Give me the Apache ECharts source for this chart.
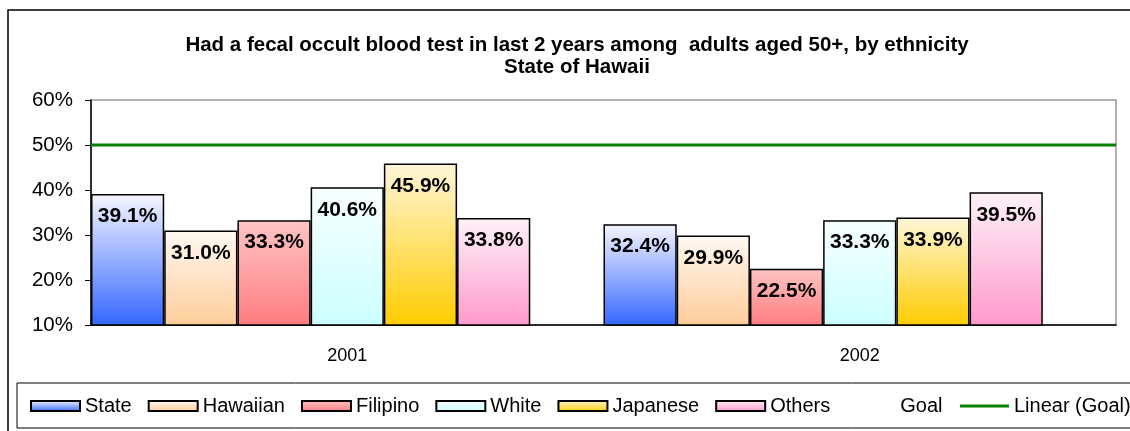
<!DOCTYPE html>
<html>
<head>
<meta charset="utf-8">
<script src="https://cdn.jsdelivr.net/npm/echarts@6/dist/echarts.min.js"></script>
<style>
    html, body { margin: 0; padding: 0; background: #fff; }
    #chart { width: 1130px; height: 431px; }
</style>
</head>
<body>
<div id="chart"></div>
<script>
    // data
    var years = ['2001', '2002'];
    var stateVals = [39.1, 32.4];
    var hawaiianVals = [31.0, 29.9];
    var filipinoVals = [33.3, 22.5];
    var whiteVals = [40.6, 33.3];
    var japaneseVals = [45.9, 33.9];
    var othersVals = [33.8, 39.5];
    var goalVals = [50, 50];

    var font = 'Arial, "Liberation Sans", sans-serif';

    function grad(top, bottom) {
        return new echarts.graphic.LinearGradient(0, 0, 0, 1, [
            { offset: 0, color: top },
            { offset: 1, color: bottom }
        ]);
    }

    function barSeries(name, data, top, bottom) {
        return {
            name: name,
            type: 'bar',
            data: data,
            barGap: 0,
            barCategoryGap: 0,
            itemStyle: {
                color: grad(top, bottom),
                borderColor: '#000',
                borderWidth: 1.5
            },
            label: {
                show: true,
                position: 'insideTop',
                distance: 12,
                color: '#000',
                fontFamily: font,
                fontWeight: 'bold',
                fontSize: 21,
                formatter: function (p) { return p.value.toFixed(1) + '%'; }
            }
        };
    }

    var chart = echarts.init(document.getElementById('chart'));

    var option = {
        animation: false,
        title: {
            text: 'Had a fecal occult blood test in last 2 years among  adults aged 50+, by ethnicity\nState of Hawaii',
            left: 577,
            top: 34,
            textAlign: 'center',
            padding: 0,
            textStyle: {
                fontFamily: font,
                fontWeight: 'bold',
                fontSize: 20.5,
                lineHeight: 22,
                color: '#000'
            }
        },
        graphic: [
            {
                type: 'rect',
                shape: { x: 8, y: 10, width: 1140, height: 440 },
                style: { fill: 'none', stroke: '#000', lineWidth: 1.5 },
                silent: true
            },
            {
                type: 'rect',
                shape: { x: 17, y: 383, width: 1130, height: 45 },
                style: { fill: 'none', stroke: '#000', lineWidth: 1 },
                silent: true
            }
        ],
        legend: {
            left: 25,
            top: 391,
            width: 1300,
            itemWidth: 49,
            itemHeight: 10,
            itemGap: 16,
            textStyle: { fontFamily: font, fontSize: 20, color: '#000' },
            data: [
                { name: 'State', icon: 'rect' },
                { name: 'Hawaiian', icon: 'rect' },
                { name: 'Filipino', icon: 'rect' },
                { name: 'White', icon: 'rect' },
                { name: 'Japanese', icon: 'rect' },
                { name: 'Others', icon: 'rect' },
                { name: 'Goal', icon: 'rect', itemStyle: { color: 'transparent', borderWidth: 0 } },
                {
                    name: 'Linear (Goal)',
                    lineStyle: { width: 3, color: '#008000' },
                    itemStyle: { color: 'transparent', borderColor: 'transparent', borderWidth: 0 }
                }
            ]
        },
        grid: {
            left: 91,
            top: 100,
            width: 1025,
            height: 225,
            show: true,
            borderColor: '#999',
            borderWidth: 1.5
        },
        xAxis: [
            {
                type: 'category',
                data: years,
                axisLine: { lineStyle: { color: '#000', width: 1.5 } },
                axisTick: { length: 7, lineStyle: { color: '#000' } },
                axisLabel: { color: '#000', fontFamily: font, fontSize: 18, margin: 22 }
            },
            {
                type: 'value',
                min: 0,
                max: 1,
                show: false
            }
        ],
        yAxis: {
            type: 'value',
            min: 10,
            max: 60,
            interval: 10,
            axisLine: { show: true, lineStyle: { color: '#000', width: 1.5 } },
            axisTick: { show: true, length: 6, lineStyle: { color: '#000' } },
            splitLine: { show: false },
            axisLabel: {
                color: '#000',
                fontFamily: font,
                fontSize: 20.5,
                margin: 18,
                formatter: '{value}%'
            }
        },
        series: [
            barSeries('State', stateVals, '#f6f6ff', '#3366ff'),
            barSeries('Hawaiian', hawaiianVals, '#fff9f3', '#ffcc99'),
            barSeries('Filipino', filipinoVals, '#ffc4c4', '#ff7c80'),
            barSeries('White', whiteVals, '#f8ffff', '#ccffff'),
            barSeries('Japanese', japaneseVals, '#fff6d8', '#ffcc00'),
            barSeries('Others', othersVals, '#fff2f8', '#ff99cc'),
            {
                name: 'Goal',
                type: 'bar',
                data: goalVals,
                barGap: 0,
                barCategoryGap: 0,
                itemStyle: { color: 'transparent' },
                label: { show: false }
            },
            {
                name: 'Linear (Goal)',
                type: 'line',
                xAxisIndex: 1,
                symbol: 'none',
                data: [[0, goalVals[0]], [1, goalVals[1]]],
                lineStyle: { color: '#008000', width: 3 },
                itemStyle: { color: '#008000' },
                z: 5
            }
        ]
    };

    chart.setOption(option);
</script>
</body>
</html>
